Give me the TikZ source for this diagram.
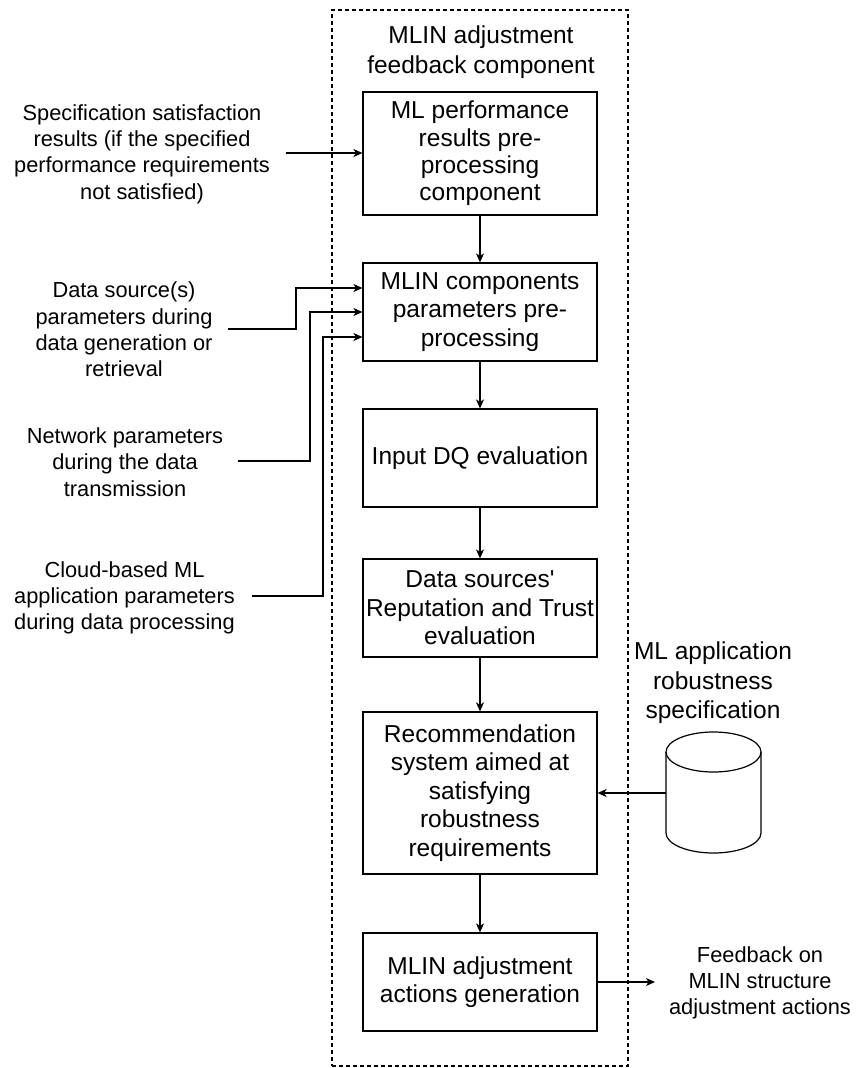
\documentclass[tikz,border=0pt]{standalone}
\usepackage{fontspec}
\setmainfont{Liberation Sans}
\newfontfamily\rawfont{Liberation Sans}
\usetikzlibrary{arrows.meta}
\begin{document}
\begin{tikzpicture}[x=1pt,y=-1pt,
  every path/.style={line width=1.2pt},
  arr/.style={-{Stealth[length=9pt,width=8pt,inset=2.5pt]}},
  stepbox/.style={draw, line width=1.2pt, fill=white, minimum width=234pt, inner sep=0pt, align=center,
     font=\fontsize{24.5}{28.5}\selectfont},
  bigtxt/.style={align=center, inner sep=0pt, font=\fontsize{24.5}{29.5}\selectfont},
  smalltxt/.style={align=center, inner sep=0pt, font=\fontsize{21.8}{26.3}\selectfont},
  frame/.style={draw, dash pattern=on 4pt off 3pt, line width=1.1pt, inner sep=0pt}]
\useasboundingbox (0,0) rectangle (860,1068);
\fill[white] (0,0) rectangle (860,1068);

% container
\node[frame, minimum width=296pt, minimum height=1056pt] (frame) at (480,538) {};
\node[bigtxt] (title) at (481,52) {MLIN adjustment\\feedback component};

% boxes
\node[stepbox, minimum height=123pt, font=\fontsize{24.5}{27.3}\selectfont] (b1) at (480,153.5) {ML performance\\results pre-\\processing\\component};
\node[stepbox, minimum height=98pt] (b2) at (480,312) {MLIN components\\parameters pre-\\processing};
\node[stepbox, minimum height=98pt] (b3) at (480,458) {Input DQ evaluation};
\node[stepbox, minimum height=98pt] (b4) at (480,608) {Data sources{\rawfont '}\\Reputation and Trust\\evaluation};
\node[stepbox, minimum height=162pt] (b5) at (480,793) {Recommendation\\system aimed at\\satisfying\\robustness\\requirements};
\node[stepbox, minimum height=98pt] (b6) at (480,982) {MLIN adjustment\\actions generation};

\draw[arr] (b1.south) -- (b2.north);
\draw[arr] (b2.south) -- (b3.north);
\draw[arr] (b3.south) -- (b4.north);
\draw[arr] (b4.south) -- (b5.north);
\draw[arr] (b5.south) -- (b6.north);

% left inputs
\node[smalltxt] (spec) at (142,154) {Specification satisfaction\\results (if the specified\\performance requirements\\not satisfied)};
\node[smalltxt] (ds) at (124,329.5) {Data source(s)\\parameters during\\data generation or\\retrieval};
\node[smalltxt] (net) at (125,462) {Network parameters\\during the data\\transmission};
\node[smalltxt] (cloud) at (124.5,598) {Cloud-based ML\\application parameters\\during data processing};

\coordinate (spec-out) at (286,153);
\coordinate (ds-out) at (228,329);
\coordinate (net-out) at (238,461);
\coordinate (cloud-out) at (252,596);

\draw[arr] (spec-out) -- (spec-out -| b1.west);
\draw[arr] (ds-out) -- (296,329) |- ([yshift=24pt]b2.west);
\draw[arr] (net-out) -- (310,461) |- (b2.west);
\draw[arr] (cloud-out) -- (323,596) |- ([yshift=-25pt]b2.west);

% cylinder
\node[bigtxt] (speclabel) at (713,683) {ML application\\robustness\\specification};
\draw[fill=white] (666,752) -- (666,833) arc[start angle=180,end angle=0,x radius=47.5,y radius=20] -- (761,752);
\draw (713.5,752) ellipse [x radius=47.5, y radius=20];
\coordinate (cyl) at (666,793);
\draw[arr] (cyl) -- (b5.east);

% output
\node[smalltxt] (fb) at (760,983) {Feedback on\\MLIN structure\\adjustment actions};
\coordinate (fb-in) at (655,982);
\draw[arr] (b6.east) -- (fb-in);
\end{tikzpicture}
\end{document}
